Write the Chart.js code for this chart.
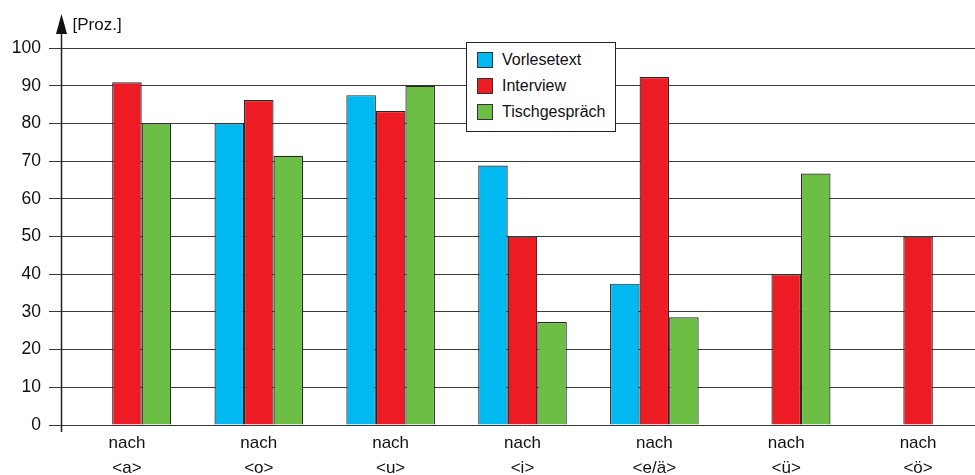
<!DOCTYPE html>
<html>
<head>
<meta charset="utf-8">
<script src="https://cdn.jsdelivr.net/npm/chart.js@4.4.1/dist/chart.umd.min.js"></script>
<style>
  html, body { margin: 0; padding: 0; background: #fff; overflow: hidden; }
  #wrap { position: relative; width: 984px; height: 480px; }
  #legend {
    position: absolute; left: 466px; top: 42px; width: 148px; height: 88px;
    background: #fff; border: 1px solid #222;
    font-family: "Liberation Sans", Arial, sans-serif; font-size: 16px; color: #111;
  }
  #legend .row { position: absolute; left: 10px; height: 16px; line-height: 16px; white-space: nowrap; }
  #legend .box { display: inline-block; width: 14px; height: 14px; border: 1px solid #333; vertical-align: top; margin-right: 9px; }
</style>
</head>
<body>
<div id="wrap">
  <canvas id="barChart" width="984" height="480"></canvas>
  <div id="legend"></div>
</div>
<script>
// categories (two-line labels) and series values in percent
const categories = [
  ["nach", "<a>"], ["nach", "<o>"], ["nach", "<u>"], ["nach", "<i>"],
  ["nach", "<e/ä>"], ["nach", "<ü>"], ["nach", "<ö>"]
];
const seriesNames = ["Vorlesetext", "Interview", "Tischgespräch"];
const vorlesetext = [null, 80, 87.5, 68.8, 37.5, null, null];
const interview = [90.9, 86.2, 83.3, 50, 92.3, 40, 50];
const tischgespraech = [80, 71.4, 90, 27.3, 28.6, 66.7, null];
const seriesColors = ["#00b9f0", "#ed1c24", "#6dbe45"];
const yTicks = [0, 10, 20, 30, 40, 50, 60, 70, 80, 90, 100];
const yUnit = "[Proz.]";

const font = "Liberation Sans, Arial, sans-serif";

//- axis arrow + unit label -
const axisPlugin = {
  id: "axisArrow",
  afterDraw(chart) {
    const ctx = chart.ctx;
    const y = chart.scales.y;
    const x0 = Math.round(y.right) + 0.5;
    ctx.save();
    ctx.strokeStyle = "#222";
    ctx.lineWidth = 1.5;
    ctx.beginPath();
    ctx.moveTo(x0, y.getPixelForValue(0) + 7);
    ctx.lineTo(x0, 30);
    ctx.stroke();
    ctx.fillStyle = "#111";
    ctx.beginPath();
    ctx.moveTo(x0, 14);
    ctx.lineTo(x0 - 5.5, 34);
    ctx.lineTo(x0 + 5.5, 34);
    ctx.closePath();
    ctx.fill();
    ctx.font = "17px " + font;
    ctx.textBaseline = "middle";
    ctx.fillStyle = "#111";
    ctx.fillText(yUnit, x0 + 11, 25);
    ctx.restore();
  }
};

const datasets = [vorlesetext, interview, tischgespraech].map(function (vals, i) {
  return {
    label: seriesNames[i],
    data: vals,
    backgroundColor: seriesColors[i],
    borderColor: "#262626",
    borderWidth: 1.2,
    borderSkipped: "bottom",
    categoryPercentage: 0.672,
    barPercentage: 1.0
  };
});

var barChart = new Chart(document.getElementById("barChart").getContext("2d"), {
  type: "bar",
  data: { labels: categories, datasets: datasets },
  plugins: [axisPlugin],
  options: {
    responsive: false,
    animation: false,
    layout: { padding: { top: 48, left: 0, right: 0, bottom: 0 } },
    plugins: { legend: { display: false }, tooltip: { enabled: false } },
    scales: {
      x: {
        grid: { display: false, drawTicks: false },
        border: { display: false },
        ticks: {
          color: "#111",
          font: { family: font, size: 17, lineHeight: 1.45 },
          padding: 6,
          maxRotation: 0,
          autoSkip: false
        },
        afterFit(scale) { scale.height = 55; }
      },
      y: {
        min: 0,
        max: 100,
        afterBuildTicks(scale) { scale.ticks = yTicks.map(v => ({ value: v })); },
        grid: { color: "#3a3a3a", lineWidth: 1, tickLength: 12, drawTicks: true },
        border: { display: false },
        ticks: {
          color: "#111",
          font: { family: font, size: 17.5 },
          padding: 8
        },
        afterFit(scale) { scale.width = 61; }
      }
    }
  }
});

// legend box built from the dataset names/colours
var legend = document.getElementById("legend");
seriesNames.forEach(function (name, i) {
  var row = document.createElement("div");
  row.className = "row";
  row.style.top = (9 + i * 26) + "px";
  row.innerHTML = '<span class="box" style="background:' + seriesColors[i] + '"></span>' + name;
  legend.appendChild(row);
});
</script>
</body>
</html>
